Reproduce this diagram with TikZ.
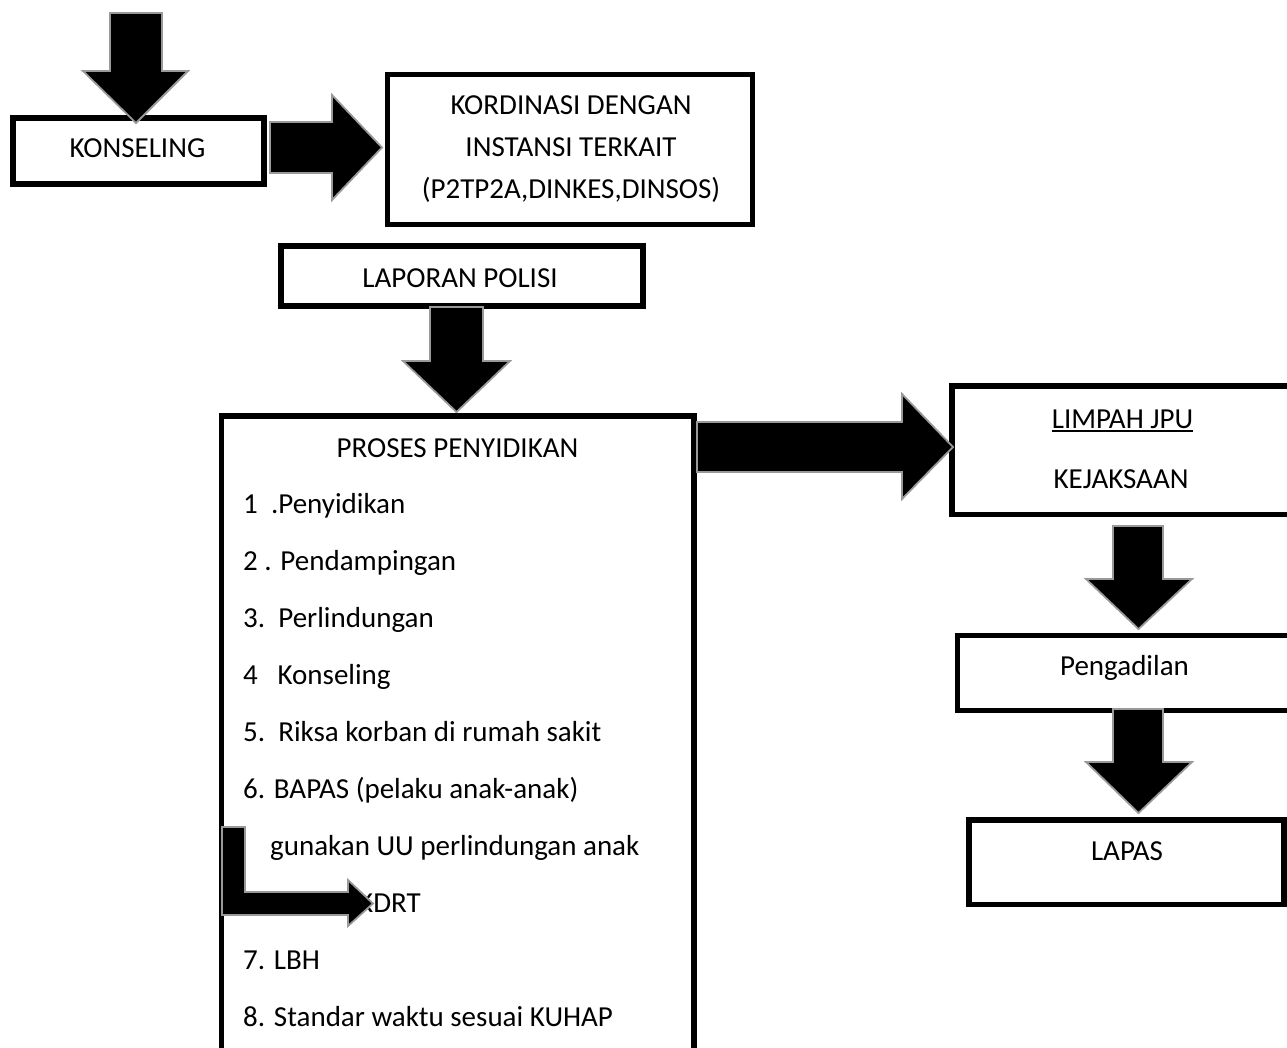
\documentclass[tikz,border=0pt]{standalone}
\usepackage{fontspec}
\setmainfont{Carlito}
\newcommand\myuline[1]{\setbox0\hbox{#1}\rlap{\rule[-3.5pt]{\wd0}{2pt}}\box0}
\begin{document}
\begin{tikzpicture}[x=1pt,y=-1pt,
  box/.style={draw=black, line width=5.5pt, fill=white, inner sep=0pt, anchor=center},
  blk/.style={fill=black, draw=black!40, line width=1.8pt, line join=miter},
  txt/.style={inner sep=0pt, anchor=base, font=\fontsize{29}{34}\selectfont},
  item/.style={inner sep=0pt, anchor=base west, font=\fontsize{29}{34}\selectfont}
]
\clip (0,0) rectangle (1287,1048);
\fill[white] (0,0) rectangle (1287,1048);

% boxes
\node[box, minimum width=251pt, minimum height=66pt] (kons) at (138.5,151) {};
\node[box, minimum width=365pt, minimum height=150pt] (kord) at (570,149.5) {};
\node[box, minimum width=362pt, minimum height=60pt] (lap) at (462,276) {};
\node[box, minimum width=472.5pt, minimum height=654pt] (proses) at (457.75,743) {};
\node[box, minimum width=343pt, minimum height=128.5pt] (limpah) at (1123.5,450.25) {};
\node[box, minimum width=335.5pt, minimum height=75pt] (peng) at (1125.25,673) {};
\node[box, minimum width=315pt, minimum height=84.5pt] (lapas) at (1126.5,862.25) {};

% texts
\node[txt] (konsT) at (137.5,158) {KONSELING};
\node[txt] (kord1) at (571,115) {KORDINASI DENGAN};
\node[txt] (kord2) at (571,157) {INSTANSI TERKAIT};
\node[txt] (kord3) at (571,199) {(P2TP2A,DINKES,DINSOS)};
\node[txt] (lapT) at (460,288) {LAPORAN POLISI};
\node[txt] (prosT) at (457.5,457) {PROSES PENYIDIKAN};
\node[item] (i1) at (243,513) {1~~.Penyidikan};
\node[item] (i2) at (243,570) {2 . Pendampingan};
\node[item] (i3) at (243,627) {3.~~Perlindungan};
\node[item] (i4) at (243,684) {4~~~Konseling};
\node[item] (i5) at (243,741) {5.~~Riksa korban di rumah sakit};
\node[item] (i6) at (243,798) {6. BAPAS (pelaku anak-anak)};
\node[item] (i6a) at (270,855) {gunakan UU perlindungan anak};
\node[item] (i6b) at (358,912) {KDRT};
\node[item] (i7) at (243,969) {7. LBH};
\node[item] (i8) at (243,1026) {8. Standar waktu sesuai KUHAP};
\node[txt] (limT) at (1122.5,428) {\myuline{LIMPAH JPU}};
\node[txt] (kejT) at (1121,488) {KEJAKSAAN};
\node[txt] (pengT) at (1124.5,675) {Pengadilan};
\node[txt] (lapasT) at (1127,860) {LAPAS};

% block arrows
\draw[blk] (110,13) -- (162,13) -- (162,71) -- (188,71) -- (136,123) -- (83,71) -- (110,71) -- cycle;
\draw[blk] (270,122) -- (332,122) -- (332,95) -- (382,147.5) -- (332,200) -- (332,173) -- (270,173) -- cycle;
\draw[blk] (430,307) -- (483,307) -- (483,361) -- (510,361) -- (456.5,412) -- (403,361) -- (430,361) -- cycle;
\draw[blk] (697,422) -- (902,422) -- (902,394) -- (953,447) -- (902,499) -- (902,472) -- (697,472) -- cycle;
\draw[blk] (1113,526) -- (1163,526) -- (1163,579) -- (1192,579) -- (1138.5,629) -- (1086,579) -- (1113,579) -- cycle;
\draw[blk] (1113,709) -- (1163,709) -- (1163,762) -- (1192,762) -- (1138.5,813) -- (1086,762) -- (1113,762) -- cycle;
\draw[blk] (222,827) -- (245,827) -- (245,892) -- (348,892) -- (348,880) -- (373,903.5) -- (348,926) -- (348,915) -- (222,915) -- cycle;
\end{tikzpicture}
\end{document}
